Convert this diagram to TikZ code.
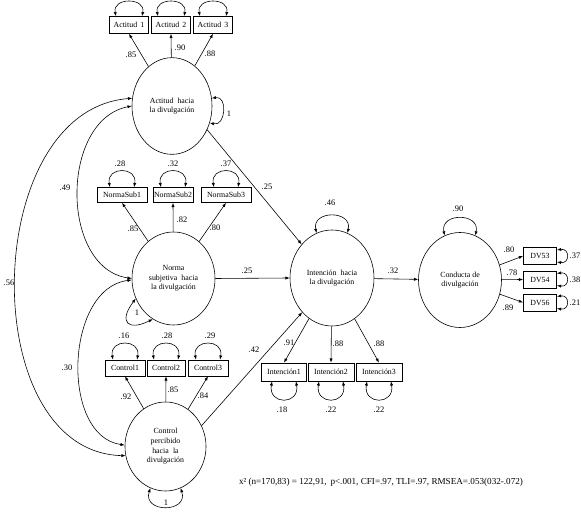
\documentclass[tikz,border=0pt]{standalone}
\usepackage{fontspec}
\setmainfont{Liberation Serif}
\usetikzlibrary{positioning,calc,shapes.geometric,arrows.meta}

\tikzset{
  lat/.style={ellipse, draw, line width=0.5pt, inner sep=0pt, align=center, font=\fontsize{6.7}{8.2}\selectfont},
  obs/.style={rectangle, draw, line width=0.5pt, inner sep=1pt, font=\fontsize{6.7}{8}\selectfont},
  arr/.style={line width=0.5pt, -{Latex[length=3.6pt,width=2.7pt]}},
  dbl/.style={line width=0.5pt, {Latex[length=3.6pt,width=2.7pt]}-{Latex[length=3.6pt,width=2.7pt]}},
  lab/.style={font=\fontsize{7.2}{8}\selectfont, inner sep=0pt}
}

\begin{document}
\begin{tikzpicture}[x=0.03cm,y=-0.03cm]
    \useasboundingbox (0,0) rectangle (581,515);
    % latent variables
    \node[lat, minimum width=2.4cm, minimum height=2.9cm] (act) at (172,106) {Actitud\; hacia\\la divulgación};
    \node[lat, minimum width=2.49cm, minimum height=2.79cm] (nor) at (173.5,278.5) {Norma\\subjetiva\; hacia\\la divulgación};
    \node[lat, minimum width=2.52cm, minimum height=2.88cm] (int) at (332,278) {Intención\; hacia\\la divulgación};
    \node[lat, minimum width=2.49cm, minimum height=2.85cm] (con) at (460,280) {Conducta de\\divulgación};
    \node[lat, minimum width=2.43cm, minimum height=2.67cm] (ctl) at (165.5,446.5) {Control\\percibido\\hacia\; la\\divulgación};
    % indicators
    \node[obs, minimum width=1.17cm, minimum height=0.51cm] (act1) at (129,25) {Actitud\, 1};
    \node[obs, minimum width=1.17cm, minimum height=0.51cm] (act2) at (171,25) {Actitud\, 2};
    \node[obs, minimum width=1.17cm, minimum height=0.51cm] (act3) at (213,25) {Actitud\, 3};
    \node[obs, minimum width=1.5cm, minimum height=0.45cm] (nor1) at (122,195) {NormaSub1};
    \node[obs, minimum width=1.2cm, minimum height=0.45cm] (nor2) at (173,195) {NormaSub2};
    \node[obs, minimum width=1.5cm, minimum height=0.45cm] (nor3) at (226,195) {NormaSub3};
    \node[obs, minimum width=1.2cm, minimum height=0.48cm] (ctl1) at (125,368) {Control1};
    \node[obs, minimum width=1.14cm, minimum height=0.48cm] (ctl2) at (166,368) {Control2};
    \node[obs, minimum width=1.2cm, minimum height=0.48cm] (ctl3) at (208,368) {Control3};
    \node[obs, minimum width=1.36cm, minimum height=0.54cm] (int1) at (284,372) {Intención1};
    \node[obs, minimum width=1.38cm, minimum height=0.54cm] (int2) at (331,372) {Intención2};
    \node[obs, minimum width=1.38cm, minimum height=0.54cm] (int3) at (379,372) {Intención3};
    \node[obs, minimum width=1.0cm, minimum height=0.5cm] (dv53) at (540,256) {DV53};
    \node[obs, minimum width=1.0cm, minimum height=0.5cm] (dv54) at (540,279.5) {DV54};
    \node[obs, minimum width=1.0cm, minimum height=0.5cm] (dv56) at (540,302.5) {DV56};
    % loadings
    \draw[arr] (act) -- (act1.south);
    \draw[arr] (act) -- (act2.south);
    \draw[arr] (act) -- (act3.south);
    \draw[arr] (nor) -- (nor1.south);
    \draw[arr] (nor) -- (nor2.south);
    \draw[arr] (nor) -- (nor3.south);
    \draw[arr] (ctl) -- (ctl1.south);
    \draw[arr] (ctl) -- (ctl2.south);
    \draw[arr] (ctl) -- (ctl3.south);
    \draw[arr] (int) -- (int1.north);
    \draw[arr] (int) -- (int2.north);
    \draw[arr] (int) -- (int3.north);
    \draw[arr] (con) -- (dv53.west);
    \draw[arr] (con) -- (dv54.west);
    \draw[arr] (con) -- (dv56.west);
    % structural paths
    \draw[arr] (act.-34) -- (int.132);
    \draw[arr] (nor.east) -- (int.west);
    \draw[arr] (ctl.30) -- (int.229);
    \draw[arr] (int) -- (con);
    % covariances
    \draw[dbl] (act.180) .. controls (60,120) and (60,268) .. (nor.180);
    \draw[dbl] (act.169) .. controls (-20,110) and (-25,452) .. (ctl.193);
    \draw[dbl] (nor.182) .. controls (65,288) and (60,436) .. (ctl.178);
    % error loops
    \draw[dbl] ($(act1.north)+(-13,0)$) .. controls +(-4,-19) and +(4,-19) .. ($(act1.north)+(13,0)$);
    \draw[dbl] ($(act2.north)+(-13,0)$) .. controls +(-4,-19) and +(4,-19) .. ($(act2.north)+(13,0)$);
    \draw[dbl] ($(act3.north)+(-13,0)$) .. controls +(-4,-19) and +(4,-19) .. ($(act3.north)+(13,0)$);
    \draw[dbl] ($(nor1.north)+(-12,0)$) .. controls +(-4,-21) and +(4,-21) .. ($(nor1.north)+(12,0)$);
    \draw[dbl] ($(nor2.north)+(-12,0)$) .. controls +(-4,-21) and +(4,-21) .. ($(nor2.north)+(12,0)$);
    \draw[dbl] ($(nor3.north)+(-12,0)$) .. controls +(-4,-21) and +(4,-21) .. ($(nor3.north)+(12,0)$);
    \draw[dbl] ($(ctl1.north)+(-12,0)$) .. controls +(-4,-21) and +(4,-21) .. ($(ctl1.north)+(12,0)$);
    \draw[dbl] ($(ctl2.north)+(-12,0)$) .. controls +(-4,-21) and +(4,-21) .. ($(ctl2.north)+(12,0)$);
    \draw[dbl] ($(ctl3.north)+(-12,0)$) .. controls +(-4,-21) and +(4,-21) .. ($(ctl3.north)+(12,0)$);
    \draw[dbl] ($(int1.south)+(-12,0)$) .. controls +(-4,24) and +(4,24) .. ($(int1.south)+(12,0)$);
    \draw[dbl] ($(int2.south)+(-12,0)$) .. controls +(-4,24) and +(4,24) .. ($(int2.south)+(12,0)$);
    \draw[dbl] ($(int3.south)+(-12,0)$) .. controls +(-4,24) and +(4,24) .. ($(int3.south)+(12,0)$);
    \draw[dbl] ($(dv53.east)+(0,-6)$) .. controls +(13,-2) and +(13,2) .. ($(dv53.east)+(0,6)$);
    \draw[dbl] ($(dv54.east)+(0,-6)$) .. controls +(13,-2) and +(13,2) .. ($(dv54.east)+(0,6)$);
    \draw[dbl] ($(dv56.east)+(0,-6)$) .. controls +(13,-2) and +(13,2) .. ($(dv56.east)+(0,6)$);
    \draw[dbl] (act.11) .. controls +(16,-3) and +(16,4) .. (act.-24);
    \draw[dbl] (nor.208) .. controls +(-18,24) and +(-24,12) .. (nor.243);
    \draw[dbl] (int.109) .. controls +(-5,-23) and +(5,-23) .. (int.71);
    \draw[dbl] (con.109) .. controls +(-5,-23) and +(5,-23) .. (con.71);
    \draw[dbl] (ctl.250) .. controls +(-8,25) and +(8,25) .. (ctl.290);
    % labels
    \node[lab] (l1) at (131,55) {.85};
    \node[lab] (l2) at (180,48) {.90};
    \node[lab] (l3) at (210,54) {.88};
    \node[lab] (l4) at (229,114) {1};
    \node[lab] (l5) at (120,164) {.28};
    \node[lab] (l6) at (173,164) {.32};
    \node[lab] (l7) at (226,164) {.37};
    \node[lab] (l8) at (133,229) {.85};
    \node[lab] (l9) at (182,220) {.82};
    \node[lab] (l10) at (215,228) {.80};
    \node[lab] (l11) at (137,313) {1};
    \node[lab] (l12) at (124,336) {.16};
    \node[lab] (l13) at (167,336) {.28};
    \node[lab] (l14) at (210,336) {.29};
    \node[lab] (l15) at (126,397) {.92};
    \node[lab] (l16) at (173,390) {.85};
    \node[lab] (l17) at (203,396) {.84};
    \node[lab] (l18) at (166,503) {1};
    \node[lab] (l19) at (65,188) {.49};
    \node[lab] (l20) at (9,283) {.56};
    \node[lab] (l21) at (67,368) {.30};
    \node[lab] (l22) at (267,187) {.25};
    \node[lab] (l23) at (247,271) {.25};
    \node[lab] (l24) at (254,350) {.42};
    \node[lab] (l25) at (393,271) {.32};
    \node[lab] (l26) at (330,203) {.46};
    \node[lab] (l27) at (458,209) {.90};
    \node[lab] (l28) at (289,343) {.91};
    \node[lab] (l29) at (338,344) {.88};
    \node[lab] (l30) at (379,344) {.88};
    \node[lab] (l31) at (282,410) {.18};
    \node[lab] (l32) at (331,410) {.22};
    \node[lab] (l33) at (379,410) {.22};
    \node[lab] (l34) at (509,250) {.80};
    \node[lab] (l35) at (512,273) {.78};
    \node[lab] (l36) at (508,308) {.89};
    \node[lab] (l37) at (575,256) {.37};
    \node[lab] (l38) at (575,280) {.38};
    \node[lab] (l39) at (575,303) {.21};
    \node[lab, font=\fontsize{7.8}{9}\selectfont] (fit) at (381,482) {x² (n=170,83) = 122,91,\, p<.001, CFI=.97, TLI=.97, RMSEA=.053(032-.072)};
\end{tikzpicture}
\end{document}
